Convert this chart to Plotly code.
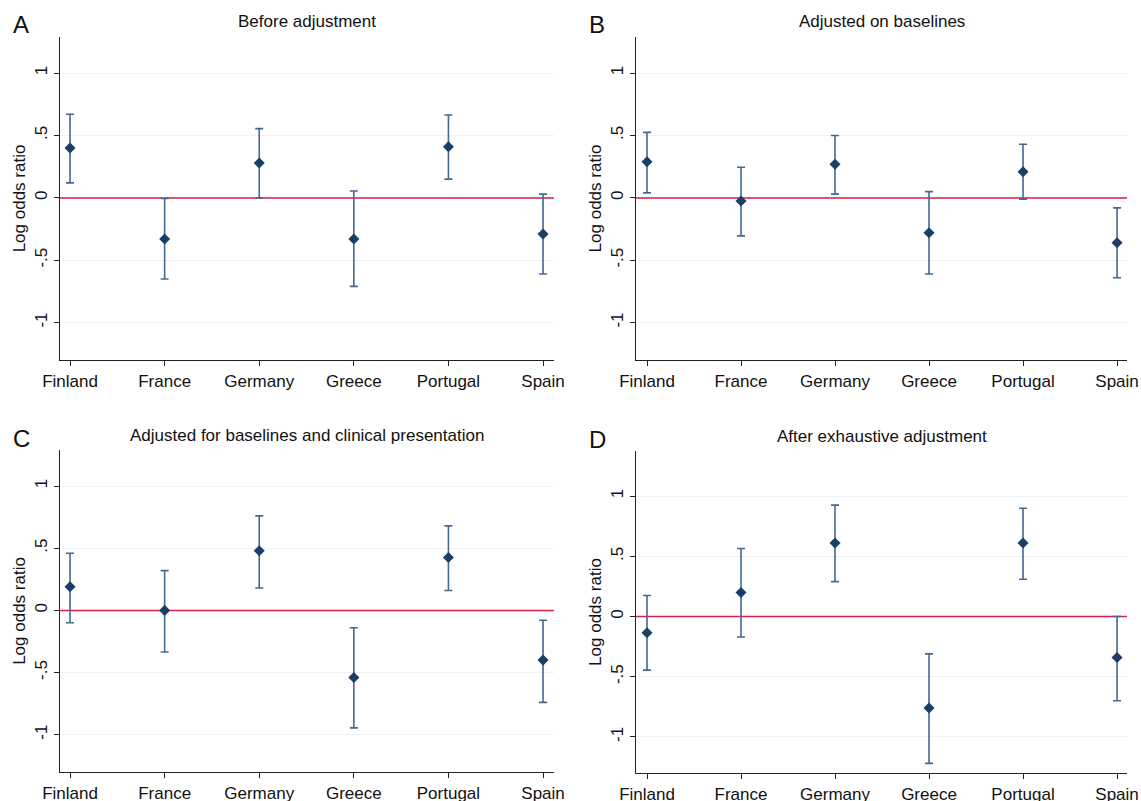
import plotly.graph_objects as go

countries = ["Finland", "France", "Germany", "Greece", "Portugal", "Spain"]

panel_letters = ["A", "B", "C", "D"]
panel_titles = ["Before adjustment", "Adjusted on baselines",
                "Adjusted for baselines and clinical presentation",
                "After exhaustive adjustment"]

# point estimates and 95% CI (log odds ratio)
est_a = [0.40, -0.33, 0.28, -0.33, 0.41, -0.29]
lo_a = [0.12, -0.65, 0.00, -0.71, 0.15, -0.61]
hi_a = [0.67, -0.005, 0.555, 0.055, 0.665, 0.03]

est_b = [0.29, -0.025, 0.27, -0.28, 0.21, -0.36]
lo_b = [0.04, -0.305, 0.03, -0.61, -0.01, -0.64]
hi_b = [0.525, 0.245, 0.50, 0.05, 0.43, -0.08]

est_c = [0.19, 0.00, 0.48, -0.54, 0.425, -0.40]
lo_c = [-0.10, -0.335, 0.18, -0.945, 0.16, -0.74]
hi_c = [0.46, 0.32, 0.76, -0.14, 0.68, -0.08]

est_d = [-0.135, 0.20, 0.61, -0.76, 0.61, -0.34]
lo_d = [-0.445, -0.17, 0.29, -1.22, 0.31, -0.70]
hi_d = [0.175, 0.565, 0.925, -0.31, 0.90, 0.00]

ref_value = 0.0

ytick_vals = [-1, -0.5, 0, 0.5, 1]
ytick_text = ["-1", "-.5", "0", ".5", "1"]

panels = [(est_a, lo_a, hi_a), (est_b, lo_b, hi_b), (est_c, lo_c, hi_c), (est_d, lo_d, hi_d)]

W, H = 1141, 801
# pixel boxes of each plot region (left, right, top, bottom)
boxes = [(60, 554, 37, 360), (636, 1127, 37, 360), (60, 554, 450, 772), (636, 1127, 451, 773)]
xranges = [[-0.106, 5.116], [-0.117, 5.106], [-0.106, 5.116], [-0.117, 5.106]]
yranges = [[-1.30, 1.29], [-1.30, 1.29], [-1.30, 1.29], [-1.30, 1.375]]

FONT = "Arial, Liberation Sans, sans-serif"
fig = go.Figure()
idx = list(range(len(countries)))

for i, (est, lo, hi) in enumerate(panels):
    n = "" if i == 0 else str(i + 1)
    # reference line at zero, spanning the whole axis
    fig.add_trace(go.Scatter(
        x=[xranges[i][0], xranges[i][1]], y=[ref_value, ref_value], mode="lines",
        line=dict(color="#d81e4a", width=1.5), hoverinfo="skip",
        xaxis="x" + n, yaxis="y" + n, showlegend=False))
    fig.add_trace(go.Scatter(
        x=idx, y=est, mode="markers",
        marker=dict(symbol="diamond", size=8.5, color="#1a3f66"),
        error_y=dict(type="data", symmetric=False,
                     array=[h - e for h, e in zip(hi, est)],
                     arrayminus=[e - l for e, l in zip(est, lo)],
                     color="#44698f", thickness=1.6, width=4),
        xaxis="x" + n, yaxis="y" + n, showlegend=False, cliponaxis=False))
    l, r, t, b = boxes[i]
    fig.update_layout(**{
        "xaxis" + n: dict(domain=[l / W, r / W], range=xranges[i], anchor="y" + n,
                          automargin=False,
                          tickvals=idx, ticktext=countries, showgrid=False, zeroline=False,
                          showline=True, linecolor="#222", linewidth=1.3,
                          ticks="outside", ticklen=5, tickcolor="#222",
                          tickfont=dict(size=17, color="#111", family=FONT)),
        "yaxis" + n: dict(domain=[1 - b / H, 1 - t / H], range=yranges[i], anchor="x" + n,
                          automargin=False,
                          tickvals=ytick_vals, ticktext=ytick_text, tickangle=-90,
                          showgrid=True, gridcolor="#eef0f6", gridwidth=1, zeroline=False,
                          showline=True, linecolor="#222", linewidth=1.3,
                          ticks="outside", ticklen=5, tickcolor="#222",
                          tickfont=dict(size=17, color="#111", family=FONT),
                          title=dict(text="Log odds ratio", standoff=2,
                                     font=dict(size=17, color="#111", family=FONT))),
    })
    # title
    fig.add_annotation(text=panel_titles[i], xref="paper", yref="paper",
                       x=((l + r) / 2) / W, y=1 - (t - 15) / H, showarrow=False,
                       xanchor="center", yanchor="middle",
                       font=dict(size=17, color="#111", family=FONT))
    fig.add_annotation(text=panel_letters[i], xref="paper", yref="paper",
                       x=(l - 49) / W, y=1 - (t - 12) / H, showarrow=False,
                       xanchor="left", yanchor="middle",
                       font=dict(size=24, color="#111", family=FONT))

fig.update_layout(width=W, height=H, margin=dict(l=0, r=0, t=0, b=0),
                  paper_bgcolor="white", plot_bgcolor="white",
                  font=dict(family=FONT, color="#111"))
fig.write_html("out.html", config={"displayModeBar": False},
               post_script="document.body.style.margin='0';document.body.style.overflow='hidden';")
